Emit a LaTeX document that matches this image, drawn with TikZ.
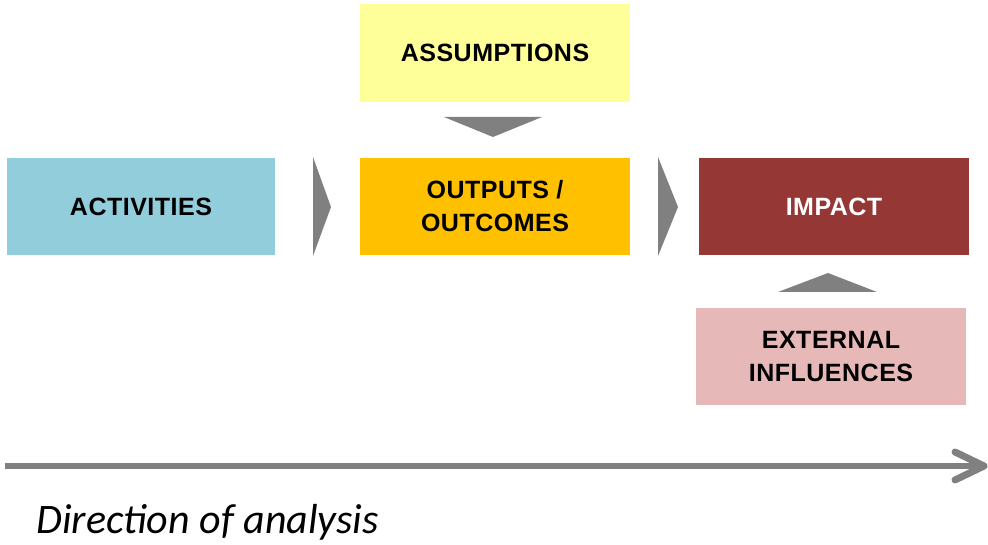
\documentclass[tikz,border=0pt]{standalone}
\usepackage{fontspec}
\setmainfont{Liberation Sans}
\newfontfamily\boxfont[LetterSpace=2]{Liberation Sans}
\newfontfamily\capfont{Carlito}
\definecolor{cblue}{HTML}{92CDDC}
\definecolor{corange}{HTML}{FFC000}
\definecolor{cred}{HTML}{953735}
\definecolor{cyellow}{HTML}{FFFF99}
\definecolor{cpink}{HTML}{E6B9B8}
\definecolor{cgray}{HTML}{808080}
\tikzset{
  box/.style={minimum width=270pt, minimum height=97pt, inner sep=0pt, align=center,
    font=\boxfont\bfseries\fontsize{25}{33}\selectfont, text=black},
  tri/.style={fill=cgray, draw=none}
}
\begin{document}
\begin{tikzpicture}[x=1pt,y=-1pt]
\useasboundingbox (0,0) rectangle (988,545);
\node[box, fill=cblue, minimum width=268pt] (act) at (141,206.5) {ACTIVITIES};
\node[box, fill=corange] (out) at (495,206.5) {OUTPUTS /\\OUTCOMES};
\node[box, fill=cred, text=white] (imp) at (834,206.5) {IMPACT};
\node[box, fill=cyellow, minimum height=98pt] (ass) at (495,53) {ASSUMPTIONS};
\node[box, fill=cpink] (ext) at (831,356.5) {EXTERNAL\\INFLUENCES};
% triangles
\fill[tri] (444,117) -- (542,117) -- (493,137) -- cycle;
\fill[tri] (313,157) -- (331,207) -- (313,256) -- cycle;
\fill[tri] (658,157) -- (678,207) -- (658,256) -- cycle;
\fill[tri] (778,292) -- (877,292) -- (828,273) -- cycle;
% direction arrow
\coordinate (a0) at (5,466);
\coordinate (a1) at (984,466);
\draw[cgray, line width=6pt] (a0) -- (a1);
\draw[cgray, line width=7pt, line cap=round, line join=round] (955,452) -- (a1) -- (955,480);
\node[anchor=base west, inner sep=0pt, font=\capfont\itshape\fontsize{42}{50}\selectfont, text=black] (dir) at (36,533) {Direction of analysis};
\end{tikzpicture}
\end{document}
